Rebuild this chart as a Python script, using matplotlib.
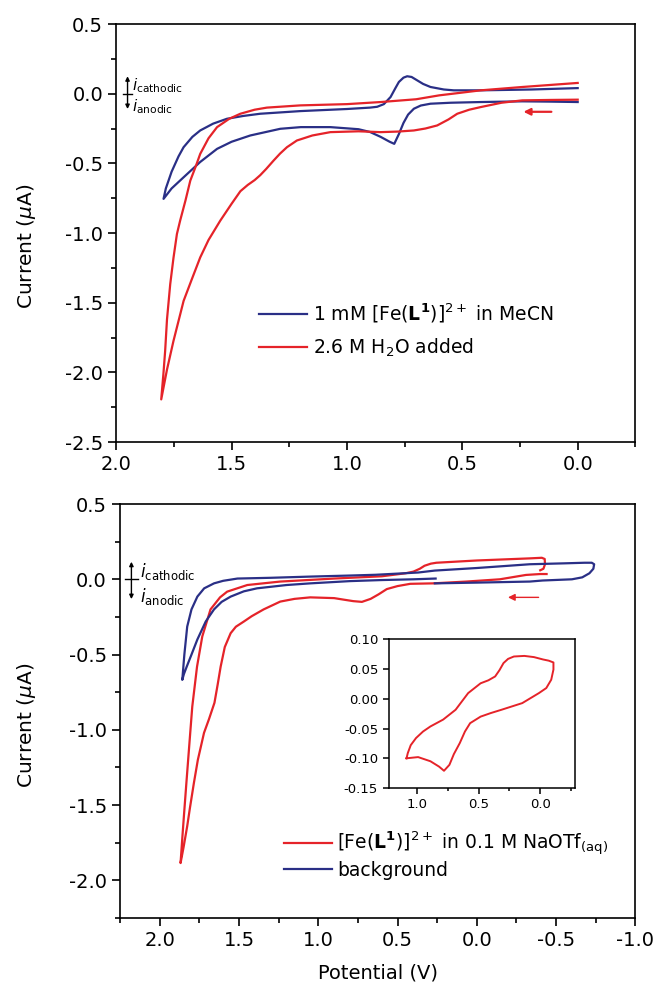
import numpy as np
import matplotlib
matplotlib.use('Agg')
import matplotlib.pyplot as plt
from matplotlib.ticker import MultipleLocator, FormatStrFormatter

BLUE = '#2a2f86'
RED = '#e52329'

# top panel: 1 mM [Fe(L1)]2+ in MeCN
top_blue_v = [0.00, 0.12, 0.24, 0.42, 0.55, 0.638, 0.68, 0.71, 0.735, 0.755, 0.775, 0.795, 0.815,
              0.854, 0.90, 0.95, 1.072, 1.20, 1.289, 1.419, 1.50, 1.563, 1.636, 1.708, 1.76, 1.795,
              1.785, 1.76, 1.73, 1.708, 1.67, 1.636, 1.58, 1.52, 1.45, 1.376, 1.202, 1.00, 0.90,
              0.869, 0.84, 0.811, 0.79, 0.775, 0.755, 0.739, 0.72, 0.70, 0.67, 0.638, 0.58, 0.537,
              0.42, 0.20, 0.00]
top_blue_i = [-0.06, -0.057, -0.055, -0.06, -0.065, -0.072, -0.085, -0.108, -0.15, -0.21, -0.29, -0.36, -0.345,
              -0.31, -0.275, -0.255, -0.24, -0.24, -0.252, -0.30, -0.345, -0.396, -0.49, -0.60, -0.68, -0.755,
              -0.68, -0.56, -0.45, -0.384, -0.31, -0.264, -0.215, -0.18, -0.16, -0.144, -0.125, -0.11, -0.10,
              -0.094, -0.075, -0.024, 0.04, 0.084, 0.115, 0.125, 0.12, 0.10, 0.07, 0.048, 0.03, 0.024,
              0.024, 0.03, 0.04]

# top panel: 2.6 M H2O added
top_red_v = [0.00, 0.12, 0.24, 0.33, 0.42, 0.47, 0.522, 0.56, 0.609, 0.66, 0.71, 0.78, 0.854, 0.95,
             1.072, 1.15, 1.217, 1.26, 1.29, 1.318, 1.35, 1.376, 1.40, 1.43, 1.462, 1.50, 1.549, 1.60,
             1.636, 1.672, 1.708, 1.752, 1.78, 1.805,
             1.795, 1.788, 1.78, 1.766, 1.752, 1.737, 1.723, 1.70, 1.679, 1.655, 1.636, 1.60, 1.563,
             1.51, 1.462, 1.40, 1.347, 1.202, 1.00, 0.854, 0.70, 0.60, 0.42, 0.24, 0.00]
top_red_i = [-0.043, -0.045, -0.048, -0.065, -0.096, -0.115, -0.144, -0.185, -0.228, -0.25, -0.264, -0.272, -0.276, -0.27,
             -0.276, -0.30, -0.336, -0.384, -0.43, -0.48, -0.54, -0.585, -0.62, -0.655, -0.70, -0.79, -0.911, -1.05,
             -1.175, -1.33, -1.487, -1.775, -1.98, -2.194,
             -2.0, -1.846, -1.62, -1.367, -1.18, -1.007, -0.911, -0.767, -0.624, -0.52, -0.432, -0.32, -0.24,
             -0.18, -0.144, -0.115, -0.10, -0.084, -0.075, -0.06, -0.04, -0.012, 0.024, 0.048, 0.077]

# bottom panel: background
bot_blue_v = [0.26, 0.40, 0.60, 0.80, 1.051, 1.20, 1.387, 1.47, 1.553, 1.61, 1.658, 1.71, 1.763, 1.80,
              1.83, 1.848, 1.858, 1.845, 1.827, 1.80, 1.763, 1.72, 1.658, 1.60, 1.51, 1.30, 1.051, 0.80,
              0.64, 0.37, 0.265, 0.0, -0.334, -0.55, -0.68, -0.725, -0.74, -0.735, -0.71, -0.665, -0.60,
              -0.415, -0.334, 0.0, 0.265]
bot_blue_i = [0.005, 0.0, -0.005, -0.012, -0.027, -0.038, -0.06, -0.08, -0.115, -0.15, -0.20, -0.28, -0.40, -0.50,
              -0.58, -0.63, -0.668, -0.50, -0.314, -0.20, -0.115, -0.06, -0.027, -0.01, 0.005, 0.01, 0.018, 0.025,
              0.03, 0.045, 0.058, 0.075, 0.10, 0.106, 0.11, 0.11, 0.10, 0.07, 0.04, 0.013, 0.0,
              -0.008, -0.015, -0.022, -0.027]

# bottom panel: [Fe(L1)]2+ in 0.1 M NaOTf(aq)
bot_red_v = [-0.44, -0.40, -0.31, -0.145, 0.066, 0.276, 0.42, 0.50, 0.568, 0.62, 0.67, 0.725, 0.78, 0.841,
             0.90, 1.051, 1.15, 1.24, 1.345, 1.42, 1.469, 1.52, 1.553, 1.59, 1.616, 1.635, 1.655, 1.69,
             1.721, 1.76, 1.785, 1.81, 1.827, 1.85, 1.869,
             1.858, 1.848, 1.832, 1.816, 1.805, 1.795, 1.765, 1.732, 1.68, 1.62, 1.575, 1.448, 1.24,
             1.051, 0.90, 0.60, 0.45, 0.40, 0.36, 0.33, 0.29, 0.255, 0.0, -0.334, -0.41, -0.428, -0.43,
             -0.42, -0.40]
bot_red_i = [0.035, 0.035, 0.029, 0.0, -0.015, -0.027, -0.03, -0.045, -0.065, -0.10, -0.13, -0.15, -0.145, -0.135,
             -0.125, -0.12, -0.13, -0.148, -0.20, -0.245, -0.28, -0.315, -0.358, -0.45, -0.58, -0.70, -0.82, -0.93,
             -1.02, -1.20, -1.354, -1.52, -1.64, -1.78, -1.885,
             -1.72, -1.575, -1.35, -1.13, -0.98, -0.845, -0.58, -0.38, -0.20, -0.12, -0.082, -0.038, -0.015,
             -0.004, 0.005, 0.02, 0.04, 0.051, 0.07, 0.09, 0.104, 0.11, 0.125, 0.139, 0.143, 0.135, 0.10,
             0.07, 0.06]

# inset
ins_v = [1.084, 0.99, 0.89, 0.82, 0.78, 0.736, 0.70, 0.652, 0.61, 0.568, 0.483, 0.40, 0.314, 0.145, 0.01,
         -0.05, -0.09, -0.108, -0.108, -0.07, -0.024, 0.05, 0.128, 0.213, 0.26, 0.297, 0.33, 0.365, 0.42,
         0.483, 0.584, 0.686, 0.787, 0.89, 0.95, 1.007, 1.05, 1.074, 1.084]
ins_i = [-0.10, -0.098, -0.105, -0.114, -0.121, -0.111, -0.093, -0.0745, -0.055, -0.041, -0.030, -0.024, -0.0185,
         -0.0073, 0.0095, 0.018, 0.032, 0.049, 0.061, 0.064, 0.066, 0.07, 0.072, 0.071, 0.067, 0.06, 0.048,
         0.0375, 0.031, 0.026, 0.0095, -0.0185, -0.035, -0.0465, -0.055, -0.066, -0.078, -0.0914, -0.10]

plt.rcParams['font.family'] = ['DejaVu Sans']
plt.rcParams['mathtext.fontset'] = 'dejavusans'

fig = plt.figure(figsize=(6.53, 9.92), dpi=100)
ax1 = fig.add_axes([0.178, 0.5544, 0.795, 0.4214])
ax2 = fig.add_axes([0.184, 0.0746, 0.789, 0.4173])
axi = fig.add_axes([0.595, 0.2056, 0.285, 0.150])


def style(ax, fs=14, major=0.5, minor=0.25, lw=1.2, tl=6):
    for s in ax.spines.values():
        s.set_linewidth(lw)
    ax.xaxis.set_major_locator(MultipleLocator(major))
    ax.xaxis.set_minor_locator(MultipleLocator(minor))
    ax.xaxis.set_major_formatter(FormatStrFormatter('%.1f'))
    ax.tick_params(which='major', direction='out', length=tl, width=lw, labelsize=fs,
                   top=False, right=False)
    ax.tick_params(which='minor', direction='out', length=tl * 0.55, width=lw,
                   top=False, right=False)


# top
ax1.plot(top_blue_v, top_blue_i, color=BLUE, lw=1.6, label=r'1 mM [Fe($\mathbf{L}^{\mathbf{1}}$)]$^{2+}$ in MeCN')
ax1.plot(top_red_v, top_red_i, color=RED, lw=1.6, label=r'2.6 M H$_2$O added')
ax1.set_xlim(2.0, -0.25)
ax1.set_ylim(-2.5, 0.5)
style(ax1)
ax1.yaxis.set_major_locator(MultipleLocator(0.5))
ax1.yaxis.set_minor_locator(MultipleLocator(0.25))
ax1.yaxis.set_major_formatter(FormatStrFormatter('%.1f'))
ax1.set_ylabel(r'Current ($\mu$A)', fontsize=14.5)
ax1.yaxis.set_label_coords(-0.150, 0.469)
ax1.legend(loc='upper left', bbox_to_anchor=(0.2755, 0.335), frameon=False, fontsize=13.5,
           handlelength=2.55, handletextpad=0.3, borderpad=0, borderaxespad=0, labelspacing=0.6)
ax1.annotate('', xy=(1.951, 0.145), xytext=(1.951, -0.13),
             arrowprops=dict(arrowstyle='<|-|>', color='black', lw=1.0, mutation_scale=6))
ax1.plot([1.972, 1.93], [0, 0], color='black', lw=1.0)
ax1.text(1.93, 0.06, r'$i_{\rm cathodic}$', fontsize=11, va='center', ha='left')
ax1.text(1.93, -0.095, r'$i_{\rm anodic}$', fontsize=11, va='center', ha='left')
ax1.annotate('', xy=(0.247, -0.13), xytext=(0.102, -0.13),
             arrowprops=dict(arrowstyle='-|>', color=RED, lw=1.6, mutation_scale=10))

# bottom
ax2.plot(bot_red_v, bot_red_i, color=RED, lw=1.6,
         label=r'[Fe($\mathbf{L}^{\mathbf{1}}$)]$^{2+}$ in 0.1 M NaOTf$_{\rm (aq)}$')
ax2.plot(bot_blue_v, bot_blue_i, color=BLUE, lw=1.6, label='background')
ax2.set_xlim(2.25, -1.0)
ax2.set_ylim(-2.25, 0.5)
style(ax2)
ax2.yaxis.set_major_locator(MultipleLocator(0.5))
ax2.yaxis.set_minor_locator(MultipleLocator(0.25))
ax2.yaxis.set_major_formatter(FormatStrFormatter('%.1f'))
ax2.set_ylabel(r'Current ($\mu$A)', fontsize=14.5)
ax2.yaxis.set_label_coords(-0.160, 0.466)
ax2.set_xlabel('Potential (V)', fontsize=14)
ax2.xaxis.set_label_coords(0.5, -0.109)
ax2.legend(loc='upper left', bbox_to_anchor=(0.3175, 0.212), frameon=False, fontsize=13.5,
           handlelength=2.55, handletextpad=0.3, borderpad=0, borderaxespad=0, labelspacing=0.15)
ax2.annotate('', xy=(2.179, 0.135), xytext=(2.179, -0.15),
             arrowprops=dict(arrowstyle='<|-|>', color='black', lw=1.0, mutation_scale=6))
ax2.plot([2.218, 2.139], [0, 0], color='black', lw=1.0)
ax2.text(2.125, 0.05, r'$i_{\rm cathodic}$', fontsize=12, va='center', ha='left')
ax2.text(2.125, -0.115, r'$i_{\rm anodic}$', fontsize=12, va='center', ha='left')
ax2.annotate('', xy=(-0.179, -0.12), xytext=(-0.407, -0.12),
             arrowprops=dict(arrowstyle='-|>', color=RED, lw=1.0, mutation_scale=10))

# inset
axi.plot(ins_v, ins_i, color=RED, lw=1.4)
axi.set_xlim(1.23, -0.28)
axi.set_ylim(-0.15, 0.10)
style(axi, fs=9.5, lw=1.1, tl=4)
axi.yaxis.set_major_locator(MultipleLocator(0.05))
axi.yaxis.set_major_formatter(FormatStrFormatter('%.2f'))

fig.savefig('out.png', dpi=100)
